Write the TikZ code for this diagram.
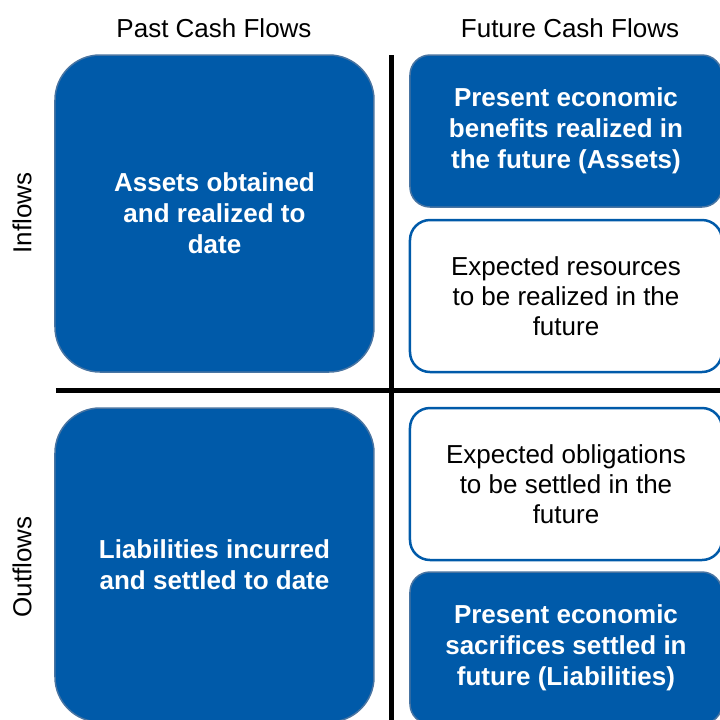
\documentclass[tikz,border=0pt]{standalone}
\usepackage{fontspec}
\setmainfont{Liberation Sans}
\usetikzlibrary{positioning}
\definecolor{cashblue}{RGB}{0,90,169}
\definecolor{cashedge}{RGB}{72,116,162}

\begin{document}
\begin{tikzpicture}[x=0.5pt,y=-0.5pt,node distance=18pt,
  quad/.style={rounded corners=10pt,align=center,inner sep=0pt,outer sep=0pt,minimum width=156pt,minimum height=76pt},
  blue node/.style={quad,fill=cashblue,draw=cashedge,line width=0.75pt,text=white,font=\fontsize{13pt}{15.5pt}\selectfont\bfseries},
  white node/.style={quad,fill=white,draw=cashblue,line width=1.25pt,font=\fontsize{13pt}{15pt}\selectfont},
  big node/.style={blue node,rounded corners=22.5pt,minimum width=159.5pt,minimum height=158.5pt},
  head/.style={font=\fontsize{13pt}{15pt}\selectfont},
  divider/.style={line width=2.5pt}]

  \useasboundingbox (0,0) rectangle (720,720);

  % column and row titles
  \node[head,anchor=base] (past) at (214,37) {Past Cash Flows};
  \node[head,anchor=base] (future) at (570,37) {Future Cash Flows};
  \node[head,rotate=90] (inflows) at (22,213) {Inflows};
  \node[head,rotate=90] (outflows) at (22,567) {Outflows};

  % past column
  \node[big node,anchor=north west] (assets) at (55,55) {Assets obtained\\and realized to\\date};
  \node[big node,anchor=north west,minimum height=157pt] (liab) at (55,408) {Liabilities incurred\\and settled to date};

  % future column
  \node[blue node,anchor=north west] (fassets) at (410,55) {Present economic\\benefits realized in\\the future (Assets)};
  \node[white node,below=6.5pt of fassets] (fres) {Expected resources\\to be realized in the\\future};
  \node[white node,below=of fres] (fobl) {Expected obligations\\to be settled in the\\future};
  \node[blue node,below=6pt of fobl] (fliab) {Present economic\\sacrifices settled in\\future (Liabilities)};

  % dividers
  \coordinate (vtop) at (392,55);
  \coordinate (vbot) at (392,720);
  \coordinate (hleft) at (56,390);
  \coordinate (hright) at (720,390);
  \draw[divider] (vtop) -- (vbot);
  \draw[divider] (hleft) -- (hright);
\end{tikzpicture}
\end{document}
